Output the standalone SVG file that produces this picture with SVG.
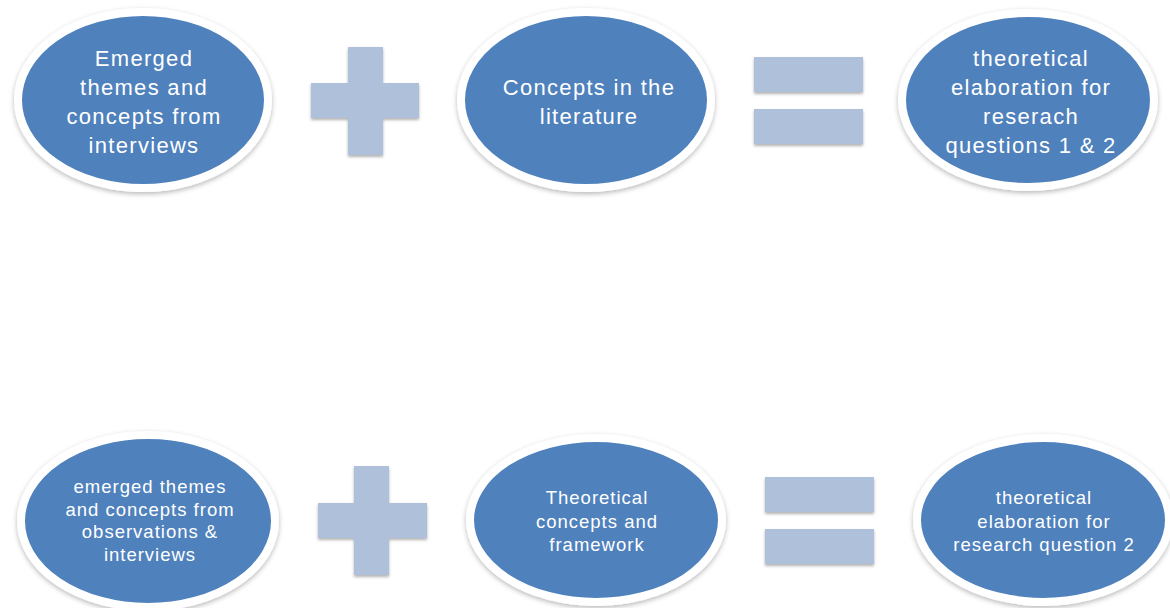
<svg xmlns="http://www.w3.org/2000/svg" width="1170" height="608" viewBox="0 0 1170 608">
  <defs>
    <filter id="shadow" x="-20%" y="-20%" width="140%" height="140%">
      <feDropShadow dx="0" dy="2" stdDeviation="2.5" flood-color="#000" flood-opacity="0.28"/>
    </filter>
    <filter id="opShadow" x="-20%" y="-20%" width="140%" height="140%">
      <feDropShadow dx="0" dy="2" stdDeviation="1.5" flood-color="#000" flood-opacity="0.3"/>
    </filter>
  </defs>
  <style>
    .bubble { fill: #4F81BD; stroke: #FFFFFF; stroke-width: 8; filter: url(#shadow); }
    .op { fill: #AFC0DB; filter: url(#opShadow); }
    .big { font-family: "Liberation Sans", Arial, sans-serif; font-size: 22px; fill: #FFFFFF; text-anchor: middle; letter-spacing: 1.3px; }
    .small { font-family: "Liberation Sans", Arial, sans-serif; font-size: 18.5px; fill: #FFFFFF; text-anchor: middle; letter-spacing: 1px; }
  </style>
  <rect width="1170" height="608" fill="#FFFFFF"/>

  <!-- top row -->
  <g id="interviews">
    <ellipse class="bubble" cx="143" cy="100" rx="125" ry="88"/>
    <text class="big" x="144" y="66">Emerged</text>
    <text class="big" x="144" y="95">themes  and</text>
    <text class="big" x="144" y="124">concepts from</text>
    <text class="big" x="144" y="153">interviews</text>
  </g>
  <g id="plus-top">
    <path class="op" d="M348 47 H383 V83 H419 V118 H383 V155 H348 V118 H311 V83 H348 Z"/>
  </g>
  <g id="literature">
    <ellipse class="bubble" cx="586" cy="100" rx="125" ry="88"/>
    <text class="big" x="589" y="95">Concepts in the</text>
    <text class="big" x="589" y="124">literature</text>
  </g>
  <g id="equals-top">
    <rect class="op" x="754" y="57" width="109" height="35"/>
    <rect class="op" x="754" y="109" width="109" height="35"/>
  </g>
  <g id="elaboration-rq12">
    <ellipse class="bubble" cx="1028" cy="100" rx="126" ry="87"/>
    <text class="big" x="1031" y="66">theoretical</text>
    <text class="big" x="1031" y="95">elaboration for</text>
    <text class="big" x="1031" y="124">reserach</text>
    <text class="big" x="1031" y="153">questions 1 &amp; 2</text>
  </g>

  <!-- bottom row -->
  <g id="observations">
    <ellipse class="bubble" cx="148" cy="521" rx="127" ry="86"/>
    <text class="small" x="150" y="493">emerged themes</text>
    <text class="small" x="150" y="516">and concepts from</text>
    <text class="small" x="150" y="538">observations &amp;</text>
    <text class="small" x="150" y="561">interviews</text>
  </g>
  <g id="plus-bottom">
    <path class="op" d="M354 466 H389 V503 H427 V538 H389 V575 H354 V538 H318 V503 H354 Z"/>
  </g>
  <g id="framework">
    <ellipse class="bubble" cx="596" cy="520" rx="126" ry="82"/>
    <text class="small" x="597" y="504">Theoretical</text>
    <text class="small" x="597" y="528">concepts and</text>
    <text class="small" x="597" y="551">framework</text>
  </g>
  <g id="equals-bottom">
    <rect class="op" x="765" y="477" width="109" height="35"/>
    <rect class="op" x="765" y="529" width="109" height="35"/>
  </g>
  <g id="elaboration-rq2">
    <ellipse class="bubble" cx="1043" cy="520" rx="126" ry="82"/>
    <text class="small" x="1044" y="504">theoretical</text>
    <text class="small" x="1044" y="528">elaboration for</text>
    <text class="small" x="1044" y="551">research question 2</text>
  </g>

  <!-- no connectors: the operators stand between the bubbles -->
  <g id="connectors"/>
</svg>
